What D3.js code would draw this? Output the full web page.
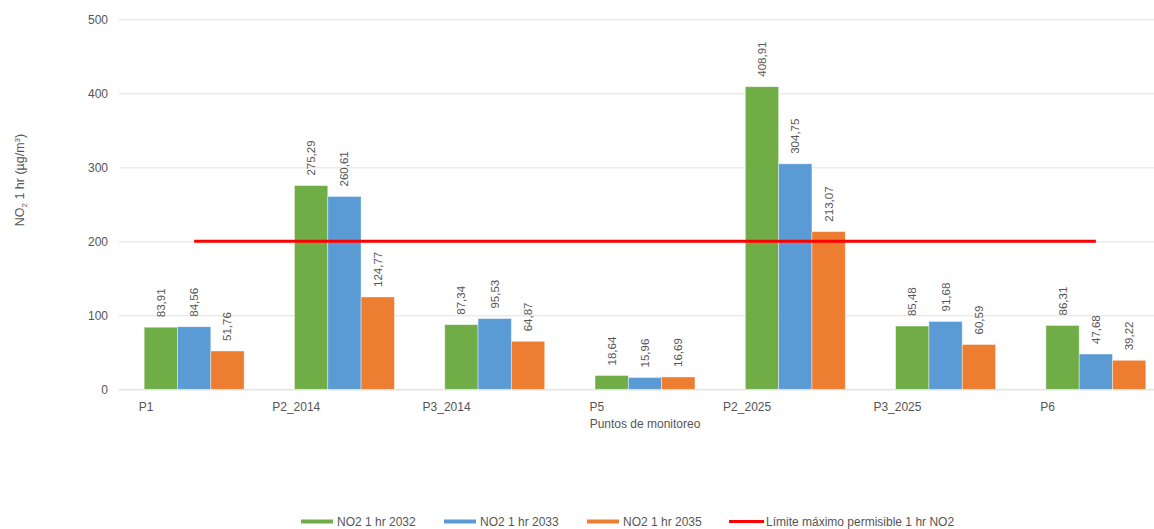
<!DOCTYPE html>
<html>
<head>
<meta charset="utf-8">
<script src="https://cdn.jsdelivr.net/npm/d3@7"></script>
<style>
  html, body { margin: 0; padding: 0; background: #fff; overflow: hidden; }
  svg { display: block; font-family: "Liberation Sans", Arial, sans-serif; }
</style>
</head>
<body>
<svg id="chart" width="1154" height="529"></svg>
<script>
// Monitoring points and NO2 1-hour concentrations (µg/m³)
const categories = ["P1", "P2_2014", "P3_2014", "P5", "P2_2025", "P3_2025", "P6"];
const seriesNames = ["NO2 1 hr 2032", "NO2 1 hr 2033", "NO2 1 hr 2035"];
const values2032 = [83.91, 275.29, 87.34, 18.64, 408.91, 85.48, 86.31];
const values2033 = [84.56, 260.61, 95.53, 15.96, 304.75, 91.68, 47.68];
const values2035 = [51.76, 124.77, 64.87, 16.69, 213.07, 60.59, 39.22];
const limitName = "Límite máximo permisible 1 hr NO2";
const limitValues = [200, 200, 200, 200, 200, 200, 200];
const yTicks = [0, 100, 200, 300, 400, 500];
const colors = ["#70ad47", "#5b9bd5", "#ed7d31"];
const limitColor = "#ff0000";

const series = [values2032, values2033, values2035];
const svg = d3.select("#chart");

const plot = { left: 119, right: 1171, top: 19.3, bottom: 389.3 };

const x = d3.scaleBand()
  .domain(categories)
  .range([plot.left, plot.right])
  .paddingInner(0)
  .paddingOuter(0);

const groupWidth = x.bandwidth() * 0.665;
const xSub = d3.scaleBand()
  .domain(d3.range(series.length))
  .range([(x.bandwidth() - groupWidth) / 2, (x.bandwidth() + groupWidth) / 2]);

const y = d3.scaleLinear().domain([0, 500]).range([plot.bottom, plot.top]);

// Gridlines and y tick labels
const yAxis = d3.axisLeft(y).tickValues(yTicks).tickSize(-(1154 - plot.left)).tickFormat(d3.format("d")).tickPadding(10);
const gy = svg.append("g").attr("transform", `translate(${plot.left},0)`).call(yAxis);
gy.select(".domain").remove();
gy.selectAll(".tick line").attr("stroke", d => d === 0 ? "#d6d6d6" : "#e2e2e2").attr("stroke-width", 1);
gy.selectAll(".tick text")
  .attr("x", -11)
  .attr("fill", "#555")
  .style("font-size", "12px")
  .style("font-family", "'Liberation Sans', Arial, sans-serif");

// Bars
const groups = svg.append("g").selectAll("g")
  .data(categories)
  .join("g")
  .attr("transform", d => `translate(${x(d)},0)`);

groups.selectAll("rect")
  .data((c, i) => series.map((s, k) => ({ k, v: s[i] })))
  .join("rect")
  .attr("x", d => xSub(d.k))
  .attr("width", xSub.bandwidth())
  .attr("y", d => y(d.v))
  .attr("height", d => y(0) - y(d.v))
  .attr("fill", d => colors[d.k])
  .attr("stroke", "rgba(255,255,255,0.5)")
  .attr("stroke-width", 0.8);

// Value labels, rotated above each bar
groups.selectAll("text.val")
  .data((c, i) => series.map((s, k) => ({ k, v: s[i] })))
  .join("text")
  .attr("class", "val")
  .attr("transform", d => `translate(${xSub(d.k) + xSub.bandwidth() / 2 + 4},${y(d.v) - 10}) rotate(-90)`)
  .attr("text-anchor", "start")
  .attr("fill", "#555")
  .style("font-size", "11.5px")
  .text(d => d3.format(".2f")(d.v).replace(".", ","));

// Limit line through the category centres
const line = d3.line()
  .x((d, i) => x(categories[i]) + x.bandwidth() / 2)
  .y(d => y(d));
svg.append("path")
  .datum(limitValues)
  .attr("d", line)
  .attr("fill", "none")
  .attr("stroke", limitColor)
  .attr("stroke-width", 3);

// Category labels
svg.append("g").selectAll("text")
  .data(categories)
  .join("text")
  .attr("x", d => x(d) + 27)
  .attr("y", 411)
  .attr("text-anchor", "middle")
  .attr("fill", "#555")
  .style("font-size", "12px")
  .text(d => d);

// Axis titles
svg.append("text")
  .attr("x", (plot.left + plot.right) / 2)
  .attr("y", 428)
  .attr("text-anchor", "middle")
  .attr("fill", "#555")
  .style("font-size", "12px")
  .text("Puntos de monitoreo");

const yTitle = svg.append("text")
  .attr("transform", "translate(24,180) rotate(-90)")
  .attr("text-anchor", "middle")
  .attr("fill", "#555")
  .style("font-size", "12.5px");
yTitle.append("tspan").text("NO");
yTitle.append("tspan").attr("dy", 3).style("font-size", "8px").text("2");
yTitle.append("tspan").attr("dy", -3).text(" 1 hr (µg/m");
yTitle.append("tspan").attr("dy", -4).style("font-size", "8px").text("3");
yTitle.append("tspan").attr("dy", 4).text(")");

// Legend
const legendItems = [
  { name: seriesNames[0], color: colors[0], x: 301, h: 4 },
  { name: seriesNames[1], color: colors[1], x: 444, h: 4 },
  { name: seriesNames[2], color: colors[2], x: 587, h: 4 },
  { name: limitName, color: limitColor, x: 729, h: 3 }
];
const legend = svg.append("g").selectAll("g")
  .data(legendItems)
  .join("g")
  .attr("transform", d => `translate(${d.x},521.5)`);
legend.append("rect")
  .attr("x", 0)
  .attr("y", d => -d.h / 2)
  .attr("width", d => d.name === limitName ? 35 : 32)
  .attr("height", d => d.h)
  .attr("fill", d => d.color);
legend.append("text")
  .attr("x", d => d.name === limitName ? 37 : 36)
  .attr("y", 4.2)
  .attr("fill", "#555")
  .style("font-size", "12px")
  .text(d => d.name);
</script>
</body>
</html>
